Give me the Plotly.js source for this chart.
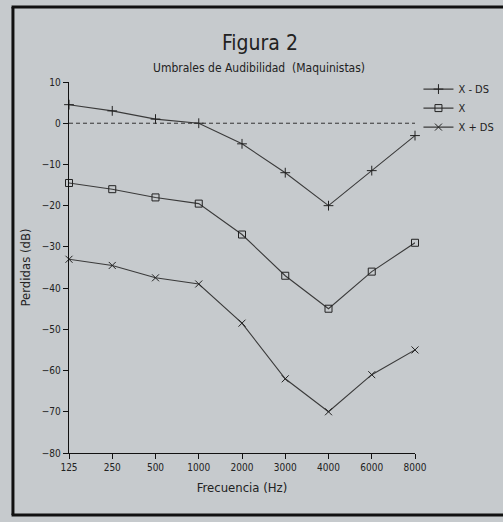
<!DOCTYPE html>
<html><head><meta charset="utf-8">
<script src="https://cdn.plot.ly/plotly-3.0.1.min.js"></script>
<style>html,body{margin:0;padding:0;background:#c6cacd;}#c{width:503px;height:522px;}</style>
</head><body><div id="c"></div>
<script>
const freqs = ['125','250','500','1000','2000','3000','4000','6000','8000'];
const xMinusDS = [4.5, 3, 1, 0, -5, -12, -20, -11.5, -3];
const xMean = [-14.5, -16, -18, -19.5, -27, -37, -45, -36, -29];
const xPlusDS = [-33, -34.5, -37.5, -39, -48.5, -62, -70, -61, -55];
const yTicks = [10, 0, -10, -20, -30, -40, -50, -60, -70, -80];

const fnt = 'DejaVu Sans Condensed, DejaVu Sans, sans-serif';
const lineCol = '#3a3a3a';
function tr(name, y, sym) {
  return {x: freqs, y: y, name: name, type: 'scatter', mode: 'lines+markers',
    cliponaxis: false,
    line: {color: lineCol, width: 1.1},
    marker: {symbol: sym, size: 7, color: '#222', line: {color: '#222', width: 1}}};
}
const data = [
  tr('X - DS', xMinusDS, 'cross-thin-open'),
  tr('X', xMean, 'square-open'),
  tr('X + DS', xPlusDS, 'x-thin-open'),
  {x: [freqs[0], freqs[freqs.length-1]], y: [0, 0], type: 'scatter', mode: 'lines',
   showlegend: false, hoverinfo: 'skip', line: {color: '#333', width: 1, dash: '4px,3px'}}
];
const layout = {
  width: 503, height: 522,
  paper_bgcolor: 'rgba(0,0,0,0)', plot_bgcolor: 'rgba(0,0,0,0)',
  margin: {l: 69, r: 88, t: 82, b: 69, autoexpand: false},
  font: {family: fnt, color: '#222', size: 10},
  title: {text: 'Figura 2', font: {family: fnt, size: 21, color: '#222'},
    x: 0.552, xanchor: 'center', xref: 'paper', y: 0.918, yanchor: 'middle', yref: 'container'},
  annotations: [{text: 'Umbrales de Audibilidad  (Maquinistas)', xref: 'paper', yref: 'paper',
    x: 0.548, y: 1.038, xanchor: 'center', yanchor: 'middle', showarrow: false,
    font: {family: fnt, size: 12, color: '#222'}}],
  xaxis: {type: 'category', categoryorder: 'array', categoryarray: freqs, range: [0, 8],
    showgrid: false, zeroline: false,
    showline: true, linecolor: '#111', linewidth: 1.3, ticks: 'outside', ticklen: 5,
    tickcolor: '#111', tickfont: {family: fnt, size: 10, color: '#222'},
    title: {text: 'Frecuencia (Hz)', font: {family: fnt, size: 13, color: '#222'}, standoff: 10}},
  yaxis: {range: [-80, 10], tickvals: yTicks, showgrid: false, zeroline: false,
    showline: true, linecolor: '#111', linewidth: 1.3, ticks: 'outside', ticklen: 5,
    tickcolor: '#111', tickfont: {family: fnt, size: 10, color: '#222'},
    title: {text: 'Perdidas (dB)', font: {family: fnt, size: 13, color: '#222'}, standoff: 8}},
  legend: {x: 1.01, y: 1.02, xanchor: 'left', yanchor: 'top', bgcolor: 'rgba(0,0,0,0)',
    font: {family: fnt, size: 11, color: '#222'}, itemwidth: 30, tracegroupgap: 0},
  shapes: [
    {type: 'line', xref: 'paper', yref: 'paper', x0: -0.162, x1: -0.162, y0: -0.167, y1: 1.202, line: {color: '#111', width: 3}},
    {type: 'line', xref: 'paper', yref: 'paper', x0: -0.166, x1: 1.3, y0: 1.202, y1: 1.202, line: {color: '#111', width: 3}},
    {type: 'line', xref: 'paper', yref: 'paper', x0: -0.166, x1: 1.3, y0: -0.167, y1: -0.167, line: {color: '#111', width: 3}}
  ],
  showlegend: true
};
Plotly.newPlot('c', data, layout, {displayModeBar: false, staticPlot: true});
</script></body></html>
